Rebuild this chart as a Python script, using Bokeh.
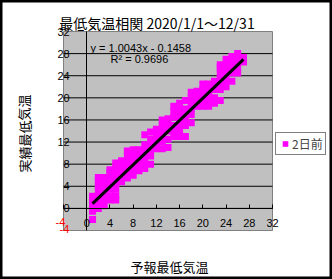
from bokeh.plotting import figure
from bokeh.models import Label, FixedTicker, Legend, LegendItem, ColumnDataSource
from bokeh.embed import file_html
from bokeh.resources import INLINE

# ---- data ----
title_text = "最低気温相関 2020/1/1～12/31"
x_title = "予報最低気温"
y_title = "実績最低気温"
series_name = "2日前"
x_ticks = [-4, 0, 4, 8, 12, 16, 20, 24, 28, 32]
y_ticks = [-4, 0, 4, 8, 12, 16, 20, 24, 28, 32]
slope = 1.0043
intercept = -0.1458
r_squared = 0.9696

forecast_values = [1, 2, 3, 4, 5, 6, 7, 8, 9, 10, 11, 12, 13, 14,
                   15, 16, 17, 18, 19, 20, 21, 22, 23, 24, 25, 26, 27]
actual_by_forecast = [
    [-2.0, -0.5, 0.5, 1.5, 2.2],
    [0.0, 1.0, 2.0, 3.0, 4.0, 5.0, 5.6],
    [0.5, 1.5, 2.5, 3.5, 4.5, 5.6],
    [1.5, 2.3, 3.5, 4.5, 5.5, 6.5, 7.0],
    [1.5, 2.3, 3.5, 4.5, 5.5, 6.5, 7.5, 8.2],
    [4.8, 5.8, 6.8, 7.8, 8.6],
    [5.5, 6.5, 7.5, 8.5, 9.5, 10.4],
    [6.0, 7.0, 8.0, 9.0, 10.0, 10.6],
    [6.8, 7.8, 8.8, 9.8, 10.6],
    [7.2, 8.5, 9.5, 10.5, 11.5, 13.3],
    [8.0, 9.5, 10.5, 11.5, 12.5, 13.8],
    [10.8, 11.8, 12.8, 13.8, 14.3],
    [10.8, 12.0, 13.0, 14.0, 15.0, 16.0],
    [11.0, 12.5, 14.0, 15.0, 16.2],
    [13.0, 14.0, 15.0, 16.5, 17.5, 18.5],
    [13.0, 14.0, 15.0, 16.0, 17.0, 18.0, 19.0],
    [13.0, 15.0, 16.0, 17.0, 18.0, 19.5],
    [15.5, 17.0, 18.0, 19.0, 20.0, 21.0],
    [18.5, 19.5, 20.5, 21.2],
    [18.5, 19.5, 20.5, 21.5, 22.5],
    [18.5, 19.5, 20.5, 21.5, 22.5],
    [19.0, 20.0, 21.5, 22.5, 23.0],
    [19.5, 21.5, 22.5, 23.5, 24.5, 25.5, 26.0],
    [22.0, 23.0, 24.0, 25.0, 26.0, 27.0],
    [23.0, 24.5, 25.5, 26.5, 27.5],
    [24.5, 25.5, 26.5, 27.5, 28.0],
    [26.5, 27.3],
]

# ---- build table ----
xs, ys = [], []
for f, acts in zip(forecast_values, actual_by_forecast):
    for a in acts:
        xs.append(f)
        ys.append(a)
src = ColumnDataSource(dict(x=xs, y=ys))

# ---- layout: the frame covers the whole canvas ----
W, H = 332, 279
PL, PR, PT, PB = 63, 272, 31, 230          # plot-area pixels
X0, X1, Y0, Y1 = x_ticks[0], x_ticks[-1], y_ticks[0], y_ticks[-1]
kx = (X1 - X0) / (PR - PL)
ky = (Y1 - Y0) / (PB - PT)


def dx(px):
    return X0 + (px - PL) * kx


def dy(py):
    return Y1 - (py - PT) * ky


p = figure(width=W, height=H, output_backend="svg", toolbar_location=None,
           x_range=(dx(0), dx(W)), y_range=(dy(H), dy(0)),
           min_border=0, min_border_left=0, min_border_right=0,
           min_border_top=0, min_border_bottom=0)
p.title.text = ""
p.background_fill_color = "white"
p.border_fill_color = "white"
p.outline_line_color = "black"
p.outline_line_width = 4
p.xgrid.visible = False
p.ygrid.visible = False

# plot area
p.quad(left=[X0], right=[X1], bottom=[Y0], top=[Y1],
       fill_color="#C0C0C0", line_color="#808080", line_width=1)

# gridlines
grid_vals = [t for t in y_ticks if Y0 < t < Y1]
p.segment(x0=[X0] * len(grid_vals), x1=[X1] * len(grid_vals),
          y0=grid_vals, y1=grid_vals, line_color="black", line_width=1)

# axes crossing at 0
tick_font = "Liberation Sans"
xa = p.xaxis[0]
xa.fixed_location = 0
xa.bounds = (X0, X1)
xa.ticker = FixedTicker(ticks=x_ticks)
xa.major_label_overrides = {-4: ""}
xa.minor_tick_line_color = None
xa.major_tick_in = 4
xa.major_tick_out = 0
xa.major_tick_line_color = "black"
xa.axis_line_color = "black"
xa.major_label_standoff = 11
xa.major_label_text_font = tick_font
xa.major_label_text_font_size = "11px"
xa.major_label_text_color = "black"

ya = p.yaxis[0]
ya.fixed_location = 0
ya.bounds = (Y0, Y1)
ya.ticker = FixedTicker(ticks=y_ticks)
ya.major_label_overrides = {-4: ""}
ya.minor_tick_line_color = None
ya.major_tick_in = 0
ya.major_tick_out = 0
ya.axis_line_color = "black"
ya.major_label_standoff = 17
ya.major_label_text_font = tick_font
ya.major_label_text_font_size = "11px"
ya.major_label_text_color = "black"

# scatter
r = p.scatter("x", "y", source=src, marker="square", size=7,
              fill_color="#FF00FF", line_color=None)

# trendline
tx = [min(xs), max(xs)]
ty = [slope * v + intercept for v in tx]
p.line(tx, ty, line_color="black", line_width=3)

# negative labels in red
p.add_layout(Label(x=dx(60), y=dy(221.5), text="-4", text_color="red",
                   text_font=tick_font, text_font_size="11px",
                   text_align="center", text_baseline="middle"))
p.add_layout(Label(x=dx(64), y=dy(228), text="-4", text_color="red",
                   text_font=tick_font, text_font_size="11px",
                   text_align="center", text_baseline="middle"))

# title & axis titles
jp = "Noto Sans CJK JP"
p.add_layout(Label(x=dx(156.5), y=dy(22), text=title_text, text_font=jp,
                   text_font_size="14px", text_align="center",
                   text_baseline="middle", text_color="black"))
p.add_layout(Label(x=dx(169), y=dy(266), text=x_title, text_font=jp,
                   text_font_size="13px", text_align="center",
                   text_baseline="middle", text_color="black"))
p.add_layout(Label(x=dx(23.5), y=dy(133), text=y_title, text_font=jp,
                   text_font_size="13px", text_align="center",
                   text_baseline="middle", angle=1.5708, text_color="black"))

# trend equation
eq = "y = %.4fx - %.4f" % (slope, -intercept)
p.add_layout(Label(x=dx(90), y=dy(47.5), text=eq, text_font=tick_font,
                   text_font_size="11px", text_align="left",
                   text_baseline="middle", text_color="black"))
p.add_layout(Label(x=dx(110), y=dy(58), text="R² = %.4f" % r_squared,
                   text_font=tick_font, text_font_size="11px",
                   text_align="left", text_baseline="middle",
                   text_color="black"))

# legend
legend = Legend(items=[LegendItem(label=series_name, renderers=[r])],
                location=(275, H - 155), orientation="vertical",
                border_line_color="black", border_line_width=1,
                background_fill_color="white", background_fill_alpha=1,
                padding=2, spacing=0, margin=0, label_standoff=0,
                glyph_width=14, glyph_height=15, label_height=15,
                label_text_font=jp, label_text_font_size="12px")
p.add_layout(legend)

open("out.html", "w").write(file_html(p, INLINE))
